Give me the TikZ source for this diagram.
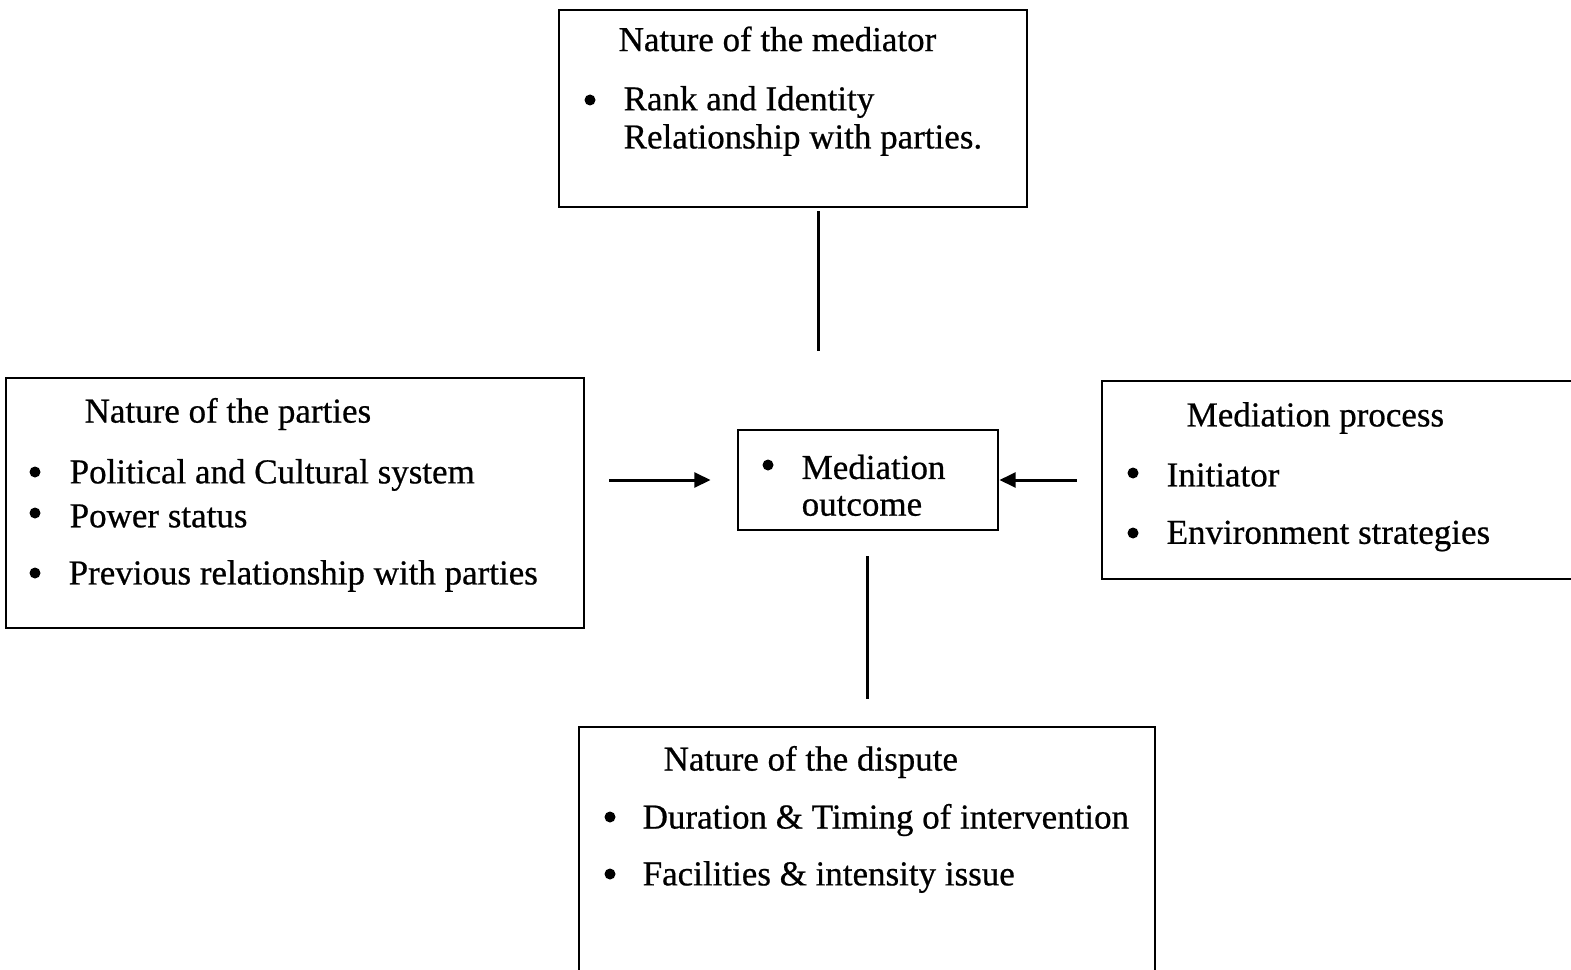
\documentclass[tikz,border=0pt]{standalone}
\usepackage{fontspec}
\setmainfont{Liberation Serif}
\newfontfamily\scanfont[FakeBold=0.6]{Liberation Serif}
\usepackage{tikz}
\usetikzlibrary{arrows.meta, positioning}

\begin{document}
\begin{tikzpicture}[
            box/.style={draw=black, line width=0.8pt, minimum width=#1, inner sep=0pt},
            txt/.style={anchor=west, inner sep=0pt, font=\scanfont\fontsize{9.95}{12}\selectfont},
            dot/.style={circle, fill=black, inner sep=0pt, minimum size=0.11cm},
            conn/.style={line width=0.85pt},
            arr/.style={conn, -{Triangle[length=4.6pt,width=4.2pt]}}
        ]
        \clip (0,0) rectangle (15.71,9.69);

        % --- RAMKI ---
        \node[box=4.68cm, minimum height=1.97cm] (mediator) at (7.93, 8.605) {};
        \node[box=5.78cm, minimum height=2.50cm] (parties) at (2.95, 4.66) {};
        \node[box=2.60cm, minimum height=1.00cm] (outcome) at (8.68, 4.89) {};
        \node[box=4.75cm, minimum height=1.98cm] (process) at (13.395, 4.89) {};
        \node[box=5.76cm, minimum height=2.60cm] (dispute) at (8.67, 1.12) {};

        % --- Nature of the mediator ---
        \node[txt] (medT) at (6.18, 9.30) {Nature of the mediator};
        \node[dot] (medB) at (5.90, 8.69) {};
        \node[txt] (medL1) at (6.23, 8.67) {Rank and Identity};
        \node[txt] (medL2) at (6.23, 8.29) {Relationship with parties.};

        % --- Nature of the parties ---
        \node[txt] (parT) at (0.84, 5.55) {Nature of the parties};
        \node[dot] (parB1) at (0.35, 4.97) {};
        \node[dot] (parB2) at (0.35, 4.56) {};
        \node[dot] (parB3) at (0.35, 3.96) {};
        \node[txt] (parL1) at (0.69, 4.94) {Political and Cultural system};
        \node[txt] (parL2) at (0.69, 4.53) {Power status};
        \node[txt] (parL3) at (0.68, 3.93) {Previous relationship with parties};

        % --- Mediation outcome ---
        \node[dot] (outB) at (7.68, 5.04) {};
        \node[txt] (outL1) at (8.01, 5.02) {Mediation};
        \node[txt] (outL2) at (8.01, 4.63) {outcome};

        % --- Mediation process ---
        \node[txt] (proT) at (11.86, 5.51) {Mediation process};
        \node[dot] (proB1) at (11.33, 4.96) {};
        \node[dot] (proB2) at (11.33, 4.36) {};
        \node[txt] (proL1) at (11.66, 4.94) {Initiator};
        \node[txt] (proL2) at (11.66, 4.33) {Environment strategies};

        % --- Nature of the dispute ---
        \node[txt] (disT) at (6.63, 2.07) {Nature of the dispute};
        \node[dot] (disB1) at (6.10, 1.52) {};
        \node[dot] (disB2) at (6.10, 0.95) {};
        \node[txt] (disL1) at (6.42, 1.49) {Duration \& Timing of intervention};
        \node[txt] (disL2) at (6.42, 0.92) {Facilities \& intensity issue};

        % --- STRZALKI ---
        \coordinate (topx) at (8.18, 0);
        \coordinate (botx) at (8.67, 0);
        \draw[conn, shorten <=0.03cm, shorten >=0.78cm] (mediator.south -| topx) -- (outcome.north -| topx);
        \draw[arr, shorten <=0.24cm, shorten >=0.26cm] (parties.east |- outcome.west) -- (outcome.west);
        \draw[arr, shorten <=0.24cm] (process.west |- outcome.east) -- (outcome.east);
        \draw[conn, shorten <=0.25cm, shorten >=0.27cm] (outcome.south -| botx) -- (dispute.north -| botx);

        \end{tikzpicture}
\end{document}
